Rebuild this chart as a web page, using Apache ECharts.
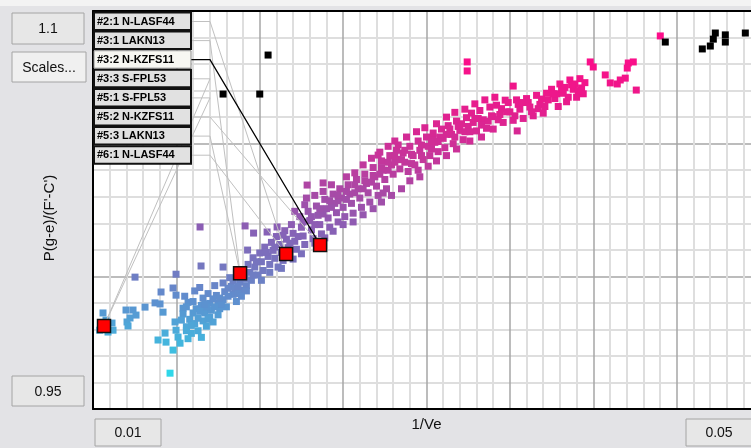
<!DOCTYPE html>
<html>
<head>
<meta charset="utf-8">
<script src="https://cdn.jsdelivr.net/npm/echarts@6/dist/echarts.min.js"></script>
<style>
html, body { margin: 0; padding: 0; background: #e3e3e6; }
#main { width: 751px; height: 448px; }
</style>
</head>
<body>
<div id="main"></div>
<script>
// axis range
var xMin = 0.01, xMax = 0.05, xStep = 0.005;
var yMin = 0.95, yMax = 1.1, yStep = 0.05;
var xRangeLabels = ['0.01', '0.05'];
var yRangeLabels = ['1.1', '0.95'];
var xTitle = '1/Ve';
var yTitle = "P(g-e)/(F'-C')";

// catalogue glasses [1/Ve, P(g-e)/(F'-C')]
var glassPoints = [
  [0.0106,0.9862],[0.01078,0.9835],[0.01114,0.9824],[0.0109,0.979],[0.0112,0.9797],[0.0104,0.9797],
  [0.01198,0.9873],[0.0124,0.9873],[0.01222,0.9843],[0.01204,0.9828],[0.01258,0.9854],[0.0121,0.9813],
  [0.01312,0.9884],[0.01372,0.99],[0.01402,0.9896],[0.0142,0.9865],
  [0.01252,0.9997],[0.01408,0.9941],[0.0148,0.9956],[0.01498,0.9929],[0.01498,1.0008],
  [0.01648,1.0039],[0.0178,1.0035],[0.01642,1.0186],[0.01912,1.019],[0.02284,1.0344],[0.0238,1.0352],
  [0.0139,0.976],[0.01432,0.9786],[0.01438,0.9752],[0.0148,0.9722],[0.01462,0.9635],
  [0.01492,0.9828],[0.01498,0.9797],[0.0151,0.9771],[0.01522,0.9748],[0.0154,0.988],
  [0.0155,0.9925],[0.0157,0.9902],[0.0154,0.9858],[0.0158,0.9838],[0.0156,0.981],[0.0159,0.9785],[0.0157,0.9765],
  [0.0161,0.9945],[0.0162,0.9878],[0.0161,0.9822],[0.0163,0.9795],
  [0.0164,0.9958],[0.0166,0.9918],[0.0165,0.989],[0.0167,0.9862],[0.0166,0.9832],[0.0168,0.9812],
  [0.0169,0.9935],[0.017,0.9898],[0.0171,0.9872],[0.017,0.9845],[0.0172,0.9828],
  [0.0173,0.9965],[0.0174,0.9928],[0.0175,0.99],[0.0176,0.9878],[0.0175,0.9855],
  [0.0178,0.9975],[0.0179,0.9942],[0.0178,0.9912],[0.018,0.9885],
  [0.0182,0.9995],[0.0183,0.9962],[0.0184,0.9932],[0.0186,0.9905],[0.0186,1.0012],
  [0.0188,0.9978],[0.0189,0.9948],[0.019,1.0025],[0.0191,0.9992],
  [0.0193,1.0045],[0.0194,1.0015],[0.0195,0.9985],[0.0196,1.007],[0.0197,1.0035],
  [0.0199,1.0005],[0.02,1.0088],[0.0201,1.0055],[0.0202,1.0022],[0.0203,1.011],
  [0.01963,1.0163],[0.01927,1.0099],[0.02044,1.0167],[0.02104,1.0186],
  [0.0205,1.0075],[0.0206,1.0045],[0.0207,1.0128],[0.0208,1.0098],[0.0209,1.0068],[0.021,1.015],
  [0.0212,1.012],[0.0213,1.009],[0.0214,1.006],[0.0215,1.0172],[0.0216,1.014],[0.0217,1.0108],
  [0.0211,1.0035],[0.0218,1.0078],
  [0.0219,1.0195],[0.022,1.0162],[0.0221,1.0132],[0.0222,1.0102],[0.0224,1.0225],[0.0225,1.0185],
  [0.0226,1.0152],[0.0227,1.012],[0.0229,1.0245],[0.023,1.021],[0.0231,1.0175],[0.0232,1.0142],[0.0228,1.0295],
  [0.0234,1.0265],[0.0235,1.023],[0.0236,1.0195],[0.0237,1.016],[0.0239,1.029],[0.024,1.0255],
  [0.0241,1.022],[0.0242,1.0185],[0.0244,1.031],[0.0245,1.0275],[0.0246,1.024],[0.0247,1.0205],[0.0248,1.033],
  [0.0249,1.0295],[0.025,1.026],[0.0251,1.0225],[0.0253,1.0345],[0.0254,1.031],[0.0255,1.0275],
  [0.0256,1.0238],[0.0258,1.0365],[0.0259,1.033],[0.026,1.0295],[0.0261,1.026],[0.0263,1.0385],
  [0.0264,1.035],[0.0265,1.0315],[0.0266,1.028],
  [0.0268,1.041],[0.0269,1.0375],[0.027,1.034],[0.0271,1.0305],[0.0273,1.0435],[0.0274,1.04],
  [0.0275,1.0365],[0.0276,1.033],[0.0278,1.0455],[0.0279,1.042],[0.028,1.0385],[0.0282,1.0475],
  [0.0283,1.044],[0.0284,1.0405],
  [0.0271,1.0457],[0.0274,1.0314],[0.0283,1.0495],[0.0295,1.04],[0.0304,1.0521],
  [0.0286,1.0465],[0.0287,1.043],[0.0289,1.0395],[0.029,1.049],[0.0292,1.0455],[0.0293,1.042],
  [0.0295,1.051],[0.0296,1.0475],[0.0298,1.044],[0.03,1.0525],[0.0301,1.049],[0.0302,1.0455],
  [0.0304,1.054],[0.0305,1.0505],[0.0307,1.047],
  [0.0309,1.0555],[0.031,1.052],[0.0311,1.0485],[0.0313,1.0568],[0.0315,1.0535],[0.0316,1.05],
  [0.0318,1.0585],[0.032,1.055],[0.0322,1.0515],[0.0324,1.0598],[0.0325,1.0565],
  [0.0327,1.0615],[0.0328,1.058],[0.033,1.0548],[0.0332,1.0625],[0.0334,1.059],[0.0336,1.0558],
  [0.0338,1.0638],[0.034,1.0602],[0.0342,1.0645],[0.0344,1.061],[0.0346,1.058],
  [0.03472,1.0664],[0.0352,1.0717],[0.03544,1.0548],[0.03244,1.0808],[0.03244,1.0774],
  [0.0349,1.0655],[0.035,1.062],[0.0352,1.0588],[0.0354,1.0665],[0.0356,1.063],[0.0358,1.0595],
  [0.036,1.067],[0.0362,1.0638],[0.0364,1.0605],[0.0366,1.0682],[0.0368,1.0648],[0.037,1.0615],[0.0372,1.069],
  [0.0375,1.0705],[0.0377,1.067],[0.0379,1.064],[0.038,1.0725],[0.0382,1.069],[0.0384,1.0658],
  [0.0386,1.074],[0.0388,1.0705],[0.039,1.0675],[0.0392,1.0745],[0.0393,1.071],[0.0394,1.0688],
  [0.04,1.0789],[0.03982,1.0808],[0.04072,1.0759],[0.04102,1.0729],[0.04162,1.074],[0.04192,1.0747],
  [0.0421,1.0804],[0.0424,1.0808],[0.04204,1.0785],[0.04258,1.0702],[0.04144,1.0725],
  [0.04402,1.0906],
  [0.0156,0.9885],[0.016,0.9862],[0.0163,0.9842],[0.0165,0.977],[0.0168,0.9885],[0.0172,0.9915],
  [0.0177,0.9895],[0.0181,0.9925],[0.0185,0.9955],[0.0187,0.9935],[0.0192,0.9965],[0.0196,1.0005],
  [0.0198,1.0055],[0.0204,1.009],[0.0209,1.011],[0.0214,1.0155],[0.0218,1.0125],[0.0223,1.015],
  [0.0226,1.0205],[0.0233,1.0195],[0.0238,1.0235],[0.0243,1.026],[0.0247,1.0285],[0.0252,1.029],
  [0.0257,1.0315],[0.0262,1.033],[0.0267,1.0355],[0.0272,1.0385],[0.0277,1.04],[0.0281,1.043],
  [0.0285,1.044],[0.0291,1.046],[0.0297,1.0495],[0.0303,1.0505],[0.0308,1.0525],[0.0314,1.0555],
  [0.0319,1.0565],[0.0323,1.0545],[0.0331,1.0595],[0.0339,1.0605],[0.0345,1.0632],[0.0355,1.0648],
  [0.0361,1.0655],[0.0367,1.0632],[0.0373,1.0665],[0.0378,1.0688],[0.0383,1.0712],[0.0389,1.0725],[0.0391,1.07],
  [0.0192,0.9945],[0.0201,0.9985],[0.0206,1.0015],[0.0213,1.003],[0.022,1.0065],[0.0225,1.0085],
  [0.0233,1.0125],[0.0239,1.0145],[0.0244,1.017],[0.025,1.0195],[0.0256,1.0205],[0.0262,1.0232],
  [0.0268,1.0255],[0.0273,1.028],[0.0279,1.0305],[0.0285,1.033],[0.029,1.036],[0.0296,1.0375],
  [0.0301,1.0415],[0.0306,1.0435],[0.0312,1.0455],[0.0318,1.048],[0.0326,1.051],[0.0333,1.0525],[0.034,1.0555],
  [0.0221,1.0245],[0.0227,1.027],[0.0233,1.0305],[0.0238,1.032],[0.0243,1.0345],[0.0252,1.0375],
  [0.0257,1.039],[0.0262,1.042],[0.0267,1.0445],[0.0272,1.0468],[0.0277,1.049],[0.0281,1.051],
  [0.0288,1.0525],[0.0294,1.0545],[0.0299,1.056],[0.0306,1.0575],[0.0312,1.06],[0.0317,1.0618],
  [0.0323,1.063],[0.0329,1.065],[0.0335,1.0665],[0.0341,1.0675],
  [0.0231,1.0225],[0.0236,1.0255],[0.0242,1.0285],[0.0247,1.0305],[0.0252,1.032],[0.0257,1.0345],
  [0.0263,1.036],[0.0268,1.038],[0.0273,1.041],[0.0277,1.043],[0.0281,1.0455],[0.0287,1.0475],
  [0.0291,1.0425],[0.0297,1.0455],[0.0303,1.048],[0.0307,1.0508],[0.0312,1.0535],[0.0317,1.0525],
  [0.0321,1.0575],[0.0326,1.0545],[0.0329,1.0595],[0.0333,1.057],[0.0337,1.0585],[0.0343,1.059],
  [0.0348,1.062],[0.0353,1.0605],[0.0357,1.0655],[0.0363,1.062],[0.0369,1.0668],[0.0371,1.064],
  [0.0376,1.0688],[0.0381,1.0705],[0.0385,1.0675],[0.0387,1.0722],[0.0395,1.073],
  [0.0153,0.9835],[0.0156,0.9795],[0.0159,0.9815],[0.016,0.9905],[0.0164,0.9868],[0.0167,0.9895],
  [0.0169,0.9838],[0.0173,0.9885],[0.0176,0.9918],[0.0181,0.9955],[0.0184,0.9985],[0.0187,0.9962],[0.0189,0.9925]
];

// glasses drawn in black
var blackPoints = [
  [0.0205,1.0834],[0.0178,1.0687],[0.02,1.0687],
  [0.04432,1.0883],[0.04654,1.0857],[0.04702,1.0868],[0.0472,1.0894],[0.04732,1.0917],
  [0.04792,1.091],[0.04792,1.0883],[0.04912,1.0917]
];

// glasses used in the lens
var glassNames = ['S-FPL53', 'LAKN13', 'N-LASF44', 'N-KZFS11'];
var glassX = [0.01066, 0.01882, 0.02158, 0.02362];
var glassY = [0.9813, 1.0012, 1.0084, 1.0118];

// element labels and the glass each one points to
var labelNames = ['#2:1 N-LASF44', '#3:1 LAKN13', '#3:2 N-KZFS11', '#3:3 S-FPL53',
                  '#5:1 S-FPL53', '#5:2 N-KZFS11', '#5:3 LAKN13', '#6:1 N-LASF44'];
var labelGlass = [2, 1, 3, 0, 0, 3, 1, 2];
var selectedLabel = 2;

var font = '"Liberation Sans", Arial, sans-serif';
var chart = echarts.init(document.getElementById('main'));

var leaderData = labelNames.map(function (name, i) {
  var g = labelGlass[i];
  return [glassX[g], glassY[g], i];
});
var usedData = glassNames.map(function (n, i) {
  return { name: n, value: [glassX[i], glassY[i]] };
});

function renderLeader(params, api) {
  var i = api.value(2);
  var corner = api.coord([xMin, yMax]);
  var p = api.coord([api.value(0), api.value(1)]);
  var yc = corner[1] + 10.5 + i * 19.1;
  var sel = i === selectedLabel;
  return {
    type: 'polyline',
    shape: { points: [[corner[0] + 98, yc], [corner[0] + 117, yc], p] },
    style: { stroke: sel ? '#000' : '#c0c0c0', lineWidth: sel ? 1.3 : 1, fill: null },
    z2: sel ? 10 : 1
  };
}

function renderBox(params, api) {
  var i = api.value(2);
  var corner = api.coord([xMin, yMax]);
  var y0 = corner[1] + 1.5 + i * 19.1;
  var sel = i === selectedLabel;
  return {
    type: 'group',
    children: [
      {
        type: 'rect',
        shape: { x: corner[0] + 1, y: y0, width: 97, height: 17.5 },
        style: { fill: sel ? '#f7f7f2' : '#e1e1e1', stroke: sel ? '#8a8a8a' : '#111', lineWidth: sel ? 1 : 2 }
      },
      {
        type: 'text',
        x: corner[0] + 4, y: y0 + 9,
        style: { text: labelNames[i], font: 'bold 11px ' + font, fill: '#000',
                 textAlign: 'left', textVerticalAlign: 'middle' }
      }
    ]
  };
}

function box(x, y, w, h, text, fill) {
  return [
    { type: 'rect', shape: { x: x, y: y, width: w, height: h },
      style: { fill: fill, stroke: '#a4a4a4', lineWidth: 1 } },
    { type: 'text', x: x + w / 2, y: y + h / 2 + 1,
      style: { text: text, font: '14px ' + font, fill: '#111',
               textAlign: 'center', textVerticalAlign: 'middle' } }
  ];
}

var panel = [{ type: 'rect', shape: { x: 0, y: 0, width: 751, height: 6 }, style: { fill: '#f3f3f3' } }]
  .concat(box(12, 13, 72, 31, yRangeLabels[0], '#e7e7e7'))
  .concat(box(12, 52, 74, 30, 'Scales...', '#f0f0f0'))
  .concat(box(12, 376, 72, 30, yRangeLabels[1], '#e7e7e7'))
  .concat(box(95, 419, 66, 27, xRangeLabels[0], '#e7e7e7'))
  .concat(box(686, 419, 66, 27, xRangeLabels[1], '#e7e7e7'))
  .concat([{
    type: 'text', x: 50, y: 218, rotation: Math.PI / 2,
    style: { text: yTitle, font: '15px ' + font, fill: '#111',
             textAlign: 'center', textVerticalAlign: 'middle' }
  }]);

var option = {
  backgroundColor: '#e3e3e6',
  animation: false,
  // plot runs past the right edge of the window, like the original
  grid: {
    left: 93, top: 11, width: 667, height: 398,
    outerBoundsMode: 'none', containLabel: false,
    show: true, backgroundColor: '#fff', borderWidth: 0
  },
  graphic: panel,
  visualMap: {
    show: false,
    type: 'continuous',
    seriesIndex: 0,
    dimension: 1,
    min: 0.963,
    max: 1.083,
    inRange: {
      color: ['#2ed8ea', '#46b2dc', '#5c92d0', '#7478c0', '#8662b6',
              '#a44ca8', '#c2389c', '#da2692', '#ee178a', '#fc0e8a']
    }
  },
  xAxis: [{
    type: 'value', min: xMin, max: xMax, interval: xStep,
    name: xTitle, nameLocation: 'middle', nameGap: 8,
    nameTextStyle: { fontFamily: font, fontSize: 15, color: '#111' },
    axisLine: { show: true, onZero: false, lineStyle: { color: '#000', width: 2 } },
    axisTick: { show: false },
    axisLabel: { show: false },
    splitLine: { show: true, lineStyle: { color: '#a6a6a6', width: 1.5 } },
    minorTick: { show: false, splitNumber: 5 },
    minorSplitLine: { show: true, lineStyle: { color: '#dedede', width: 2 } }
  }, {
    type: 'value', min: xMin, max: xMax, position: 'top',
    axisLine: { show: true, lineStyle: { color: '#000', width: 2 } },
    axisTick: { show: false }, axisLabel: { show: false }, splitLine: { show: false }
  }],
  yAxis: {
    type: 'value', min: yMin, max: yMax, interval: yStep,
    axisLine: { show: true, onZero: false, lineStyle: { color: '#000', width: 2 } },
    axisTick: { show: false },
    axisLabel: { show: false },
    splitLine: { show: true, lineStyle: { color: '#a6a6a6', width: 1.5 } },
    minorTick: { show: false, splitNumber: 5 },
    minorSplitLine: { show: true, lineStyle: { color: '#dedede', width: 2 } }
  },
  series: [
    {
      type: 'scatter', data: glassPoints, symbol: 'rect', symbolSize: 7, z: 2,
      itemStyle: { opacity: 1 }, silent: true
    },
    {
      type: 'scatter', data: blackPoints, symbol: 'rect', symbolSize: 7, z: 3,
      itemStyle: { color: '#000', opacity: 1 }, silent: true
    },
    {
      type: 'custom', data: leaderData, renderItem: renderLeader, z: 4,
      encode: { x: 0, y: 1 }, silent: true
    },
    {
      type: 'scatter', data: usedData, symbol: 'rect', symbolSize: 13, z: 6,
      itemStyle: { color: '#ff0000', borderColor: '#111', borderWidth: 1.5, opacity: 1 }, silent: true
    },
    {
      type: 'custom', data: leaderData, renderItem: renderBox, z: 8,
      encode: { x: 0, y: 1 }, silent: true
    }
  ]
};

chart.setOption(option);
</script>
</body>
</html>
